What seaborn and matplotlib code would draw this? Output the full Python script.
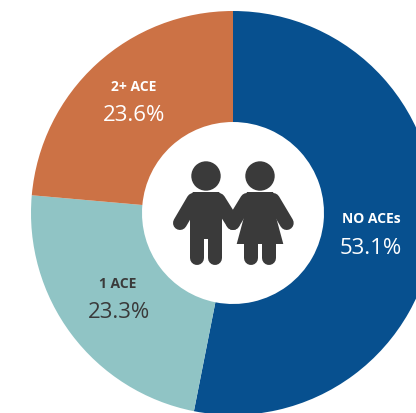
import matplotlib
matplotlib.use("Agg")
import matplotlib.pyplot as plt
import seaborn as sns
from matplotlib.patches import Circle, Polygon

categories = ["NO ACEs", "1 ACE", "2+ ACE"]
shares = [53.1, 23.3, 23.6]
colors = ["#07508f", "#90c4c5", "#cc7245"]
text_colors = ["white", "#3a3a3a", "white"]
label_xy = [(371, 219), (118, 284), (134, 87)]
value_xy = [(371, 249), (119, 313), (134, 116)]
INK = "#3a3a3a"

sns.set_theme(style="white")
plt.rcParams["font.family"] = ["Open Sans", "DejaVu Sans"]

fig = plt.figure(figsize=(4.16, 4.14), dpi=100)
ax = fig.add_axes([0, 0, 1, 1])
# the y axis is inverted below, so counterclock=True reads clockwise on screen
ax.pie(shares, colors=sns.color_palette(colors), startangle=-90, counterclock=True,
       center=(233, 214), radius=202, wedgeprops=dict(width=202 - 91, linewidth=0),
       frame=True)
ax.set_xlim(0, 416)
ax.set_ylim(414, 0)
ax.set_aspect("equal")
ax.axis("off")


def limb(x0, y0, x1, y1, w=14):
    ax.plot([x0, x1], [y0, y1], color=INK, lw=w * 0.72, solid_capstyle="round", zorder=5)


# boy
ax.add_patch(Circle((206, 177), 14.7, color=INK, lw=0, zorder=5))
ax.add_patch(Polygon([(193, 193), (219, 193), (222, 197), (222, 240), (190, 240), (190, 197)],
                     closed=True, fc=INK, ec="none", zorder=5))
limb(197, 234, 197, 259)
limb(215, 234, 215, 259)
limb(193.5, 201, 180, 224)
limb(218.5, 201, 233, 224)
# girl
ax.add_patch(Circle((260, 177), 14.7, color=INK, lw=0, zorder=5))
ax.add_patch(Polygon([(247, 193), (273, 193), (276, 200), (276, 218), (283.3, 245),
                      (236.7, 245), (244, 218), (244, 200)],
                     closed=True, fc=INK, ec="none", zorder=5))
limb(251.3, 240, 251.3, 259)
limb(269.3, 240, 269.3, 259)
limb(273, 201, 286.7, 224)
limb(247, 201, 233, 224)

for name, share, tc, lxy, vxy in zip(categories, shares, text_colors, label_xy, value_xy):
    ax.text(*lxy, name, color=tc, fontsize=10, fontweight="bold", ha="center", va="center")
    ax.text(*vxy, f"{share}%", color=tc, fontsize=16, ha="center", va="center")

fig.savefig("out.png", dpi=100)
